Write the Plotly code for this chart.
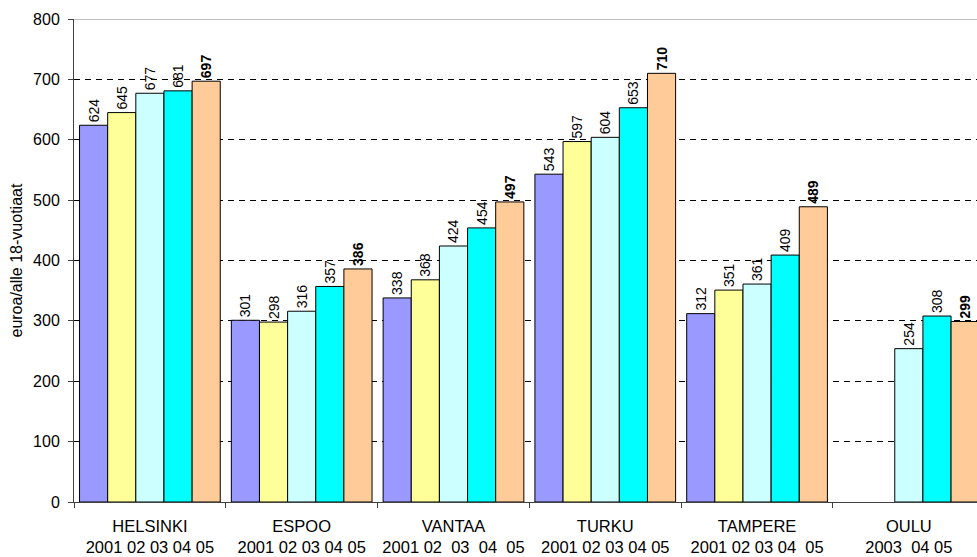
import plotly.graph_objects as go

cities = ["HELSINKI", "ESPOO", "VANTAA", "TURKU", "TAMPERE", "OULU"]
year_labels = [
    "2001 02 03 04 05",
    "2001 02 03 04 05",
    "2001 02\u00a0 03\u00a0 04\u00a0 05",
    "2001 02 03 04 05",
    "2001 02 03 04\u00a0 05",
    "2003\u00a0 04 05",
]
series_names = ["2001", "2002", "2003", "2004", "2005"]
v2001 = [624, 301, 338, 543, 312, None]
v2002 = [645, 298, 368, 597, 351, None]
v2003 = [677, 316, 424, 604, 361, 254]
v2004 = [681, 357, 454, 653, 409, 308]
v2005 = [697, 386, 497, 710, 489, 299]
series_values = [v2001, v2002, v2003, v2004, v2005]
colors = ["#9999FF", "#FFFF99", "#CCFFFF", "#00FFFF", "#FFCC99"]
y_title = "euroa/alle 18-vuotiaat"

FONT = "Liberation Sans, Arial, sans-serif"
xcats = [f"{c}<br>{y}" for c, y in zip(cities, year_labels)]

fig = go.Figure()
for i, (name, vals, col) in enumerate(zip(series_names, series_values, colors)):
    bold = i == len(series_names) - 1
    fig.add_trace(go.Bar(
        x=xcats, y=vals, name=name,
        marker=dict(color=col, line=dict(color="#000000", width=1)),
        texttemplate="<b>%{y}</b>" if bold else "%{y}",
        textposition="outside", textangle=-90,
        textfont=dict(family=FONT, size=14, color="#000000"),
        constraintext="none", cliponaxis=False,
    ))

fig.update_layout(
    width=977, height=557,
    margin=dict(l=74, r=0, t=19, b=55),
    paper_bgcolor="white", plot_bgcolor="white",
    barmode="group", bargap=0.073, bargroupgap=0,
    showlegend=False,
    font=dict(family=FONT, color="#000000"),
    xaxis=dict(
        type="category", range=[-0.5, 5.449], automargin=False,
        showline=True, linecolor="#404040", linewidth=1,
        ticks="outside", tickson="boundaries", ticklen=5, tickcolor="#404040",
        showgrid=False, tickfont=dict(size=16.5, family=FONT, color="#000000"),
        tickangle=0, ticklabelstandoff=9,
    ),
    yaxis=dict(
        range=[0, 800], dtick=100, automargin=False,
        showline=True, linecolor="#404040", linewidth=1,
        ticks="outside", ticklen=5, tickcolor="#404040",
        showgrid=True, gridcolor="#000000", gridwidth=1, griddash="6px,5px",
        zeroline=False, ticklabelstandoff=5,
        tickfont=dict(size=16, family=FONT, color="#000000"),
    ),
    shapes=[dict(type="line", xref="paper", x0=0, x1=1, yref="y", y0=800, y1=800,
                 line=dict(color="#808080", width=1))],
    annotations=[dict(text=y_title, xref="paper", yref="paper", x=0, y=0.5,
                      xanchor="center", yanchor="middle", xshift=-58, textangle=-90,
                      showarrow=False, font=dict(size=16, family=FONT, color="#000000"))],
)

fig.write_html(
    "out.html",
    config={"displayModeBar": False},
    post_script="document.body.style.margin='0';document.body.style.overflow='hidden';",
)
